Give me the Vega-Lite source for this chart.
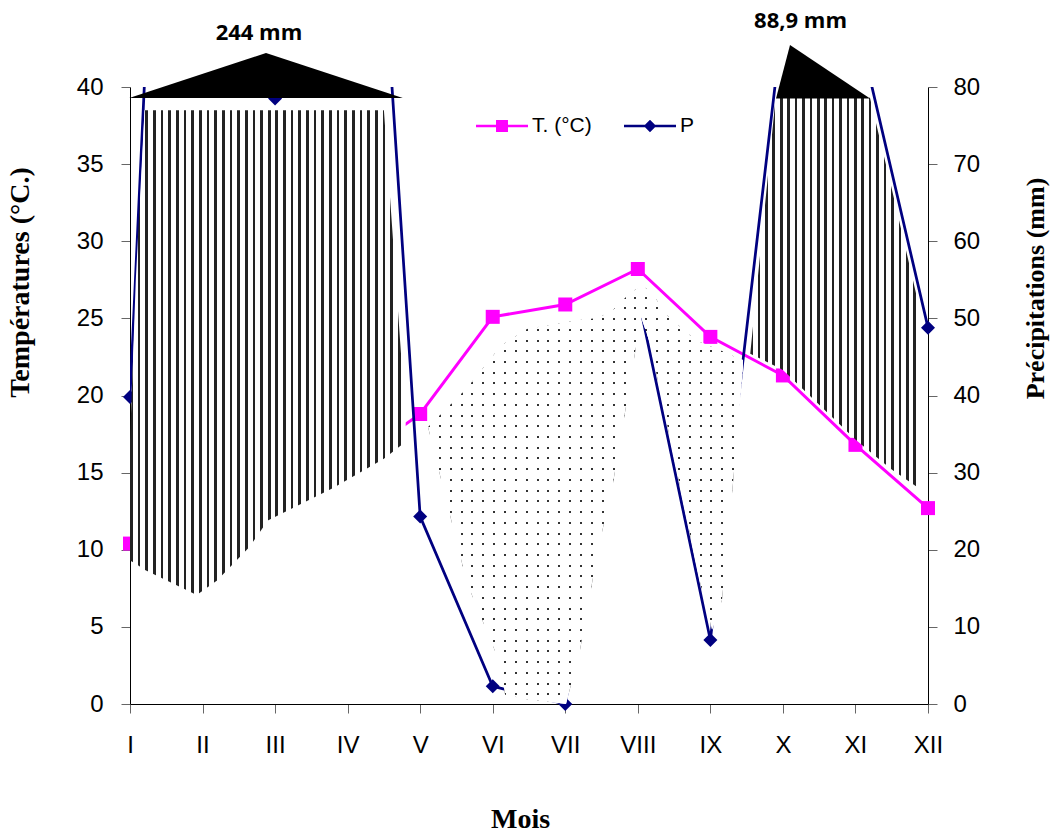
{
"$schema":"https://vega.github.io/schema/vega-lite/v6.json",
"width":798,"height":617,
"autosize":{"type":"none"},
"padding":{"left":130,"top":87,"right":124,"bottom":130},
"background":"white",
"config":{"view":{"stroke":null}},
"datasets":{
"months":[
{"m":1,"T":10.4,"P":39.8},{"m":2,"T":8.5,"P":244},{"m":3,"T":13,"P":78.5},{"m":4,"T":15.5,"P":167.7},
{"m":5,"T":18.8,"P":24.3},{"m":6,"T":25.1,"P":2.3},{"m":7,"T":25.9,"P":0},{"m":8,"T":28.2,"P":53},
{"m":9,"T":23.8,"P":8.3},{"m":10,"T":21.3,"P":88.9},{"m":11,"T":16.8,"P":89.2},{"m":12,"T":12.7,"P":48.8}],
"hatchL":[
{"m":1.0,"top":17.0,"bot":9.3},{"m":1.08,"top":27.5,"bot":9.1},{"m":1.2,"top":38.5,"bot":8.7},
{"m":1.92,"top":38.5,"bot":7.07},{"m":2.2,"top":38.5,"bot":8.0},{"m":2.65,"top":38.5,"bot":10.2},
{"m":2.9,"top":38.5,"bot":11.9},{"m":3.8,"top":38.5,"bot":14.0},{"m":4.5,"top":38.5,"bot":15.9},
{"m":4.8,"top":18.4,"bot":17.0}],
"hatchR":[
{"m":9.55,"top":22.7,"bot":22.7},{"m":9.9,"top":39.3,"bot":21.9},{"m":10,"top":39.3,"bot":21.65},
{"m":11,"top":39.3,"bot":17.15},{"m":11.2,"top":39.3,"bot":16.35},{"m":11.5,"top":33.4,"bot":15.2},
{"m":11.9,"top":25.3,"bot":13.9}],
"dots":[
{"m":5.108,"top":17.96,"bot":17.96},{"m":5.645,"top":20.49,"bot":7.84},{"m":6.1,"top":23.14,"bot":2.66},
{"m":6.17,"top":23.4,"bot":0.6},
{"m":6.472,"top":24.31,"bot":0.3},{"m":7.01,"top":24.76,"bot":0},{"m":7.203,"top":24.89,"bot":3.5},
{"m":7.451,"top":25.02,"bot":9.98},{"m":7.658,"top":25.54,"bot":14.33},{"m":7.892,"top":26.65,"bot":20.81},
{"m":8.044,"top":27.1,"bot":25.09},{"m":8.168,"top":26.84,"bot":23.4},{"m":8.402,"top":25.21,"bot":18.15},
{"m":8.719,"top":23.91,"bot":11.02},{"m":8.857,"top":23.47,"bot":7.91},{"m":9.023,"top":23.14,"bot":4.8},
{"m":9.16,"top":22.89,"bot":6.74},{"m":9.312,"top":22.56,"bot":14.33},{"m":9.45,"top":22.3,"bot":21.85}],
"tri":[
{"part":"a","m":0.99,"top":39.29,"bot":39.29},{"part":"a","m":2.875,"top":42.2,"bot":39.29},{"part":"a","m":4.76,"top":39.29,"bot":39.29},
{"part":"b","m":9.905,"top":39.26,"bot":39.26},{"part":"b","m":10.098,"top":42.72,"bot":39.26},{"part":"b","m":11.201,"top":39.26,"bot":39.26}],
"labels":[{"label":"244 mm","m":2.778,"t":43.47},{"label":"88,9 mm","m":10.243,"t":44.25}]
},
"encoding":{"x":{"field":"m","type":"quantitative","scale":{"domain":[1,12],"nice":false,"zero":false},
"axis":{"values":[1,2,3,4,5,6,7,8,9,10,11,12],"labelExpr":"['I','II','III','IV','V','VI','VII','VIII','IX','X','XI','XII'][datum.value-1]",
"title":"Mois","titleFont":"Liberation Serif","titleFontWeight":"bold","titleFontSize":28,"titleColor":"black","titleX":390,"titleY":123,"titleAlign":"center","titleBaseline":"alphabetic",
"labelFont":"Liberation Sans","labelFontSize":24,"labelColor":"black","labelPadding":20,"labelFlush":false,"labelOverlap":false,"labelBound":false,
"tickSize":9,"tickColor":"#666","domainColor":"black","grid":false}}},
"layer":[
{"data":{"name":"months"},
 "encoding":{"y":{"field":"T","type":"quantitative","scale":{"domain":[0,40],"nice":false,"zero":false},
  "axis":{"orient":"left","values":[0,5,10,15,20,25,30,35,40],"title":"Températures (°C.)","titleFont":"Liberation Serif","titleFontWeight":"bold","titleFontSize":28,"titleColor":"black",
  "titleAngle":-90,"titleX":-110,"titleY":195,"titleAlign":"center","titleBaseline":"middle",
  "labelFont":"Liberation Sans","labelFontSize":24,"labelColor":"black","labelPadding":18,"tickSize":9,"tickColor":"#666","domainColor":"black","grid":false}}},
 "layer":[
  {"mark":{"type":"line","color":"#ff00ff","strokeWidth":3}},
  {"mark":{"type":"point","shape":"square","filled":true,"size":196,"opacity":1,"color":"#ff00ff"}},
  {"mark":{"type":"point","filled":true,"opacity":0},
   "encoding":{
    "color":{"datum":"T. (°C)","scale":{"domain":["T. (°C)","P"],"range":["#ff00ff","#000080"]},
     "legend":{"orient":"none","legendX":346,"legendY":13,"direction":"horizontal","title":null,"symbolSize":2704,"symbolOpacity":1,"symbolStrokeWidth":0,
     "labelFont":"Liberation Sans","labelFontSize":21,"labelColor":"black","labelOffset":4,"columnPadding":32,"padding":0}},
    "shape":{"datum":"T. (°C)","scale":{"domain":["T. (°C)","P"],"range":[
      "M-1,-0.05L1,-0.05L1,0.05L-1,0.05ZM-0.23,-0.23L0.23,-0.23L0.23,0.23L-0.23,0.23Z",
      "M-1,-0.05L1,-0.05L1,0.05L-1,0.05ZM0,-0.24L0.24,0L0,0.24L-0.24,0Z"]},
     "legend":{"orient":"none","legendX":346,"legendY":13,"direction":"horizontal","title":null,"symbolSize":2704,"symbolOpacity":1,"symbolStrokeWidth":0,
     "labelFont":"Liberation Sans","labelFontSize":21,"labelColor":"black","labelOffset":4,"columnPadding":32,"padding":0}}}}
 ]},
{"data":{"name":"months"},
 "encoding":{"y":{"field":"P","type":"quantitative","scale":{"domain":[0,80],"nice":false,"zero":false},
  "axis":{"orient":"right","values":[0,10,20,30,40,50,60,70,80],"title":"Précipitations (mm)","titleFont":"Liberation Serif","titleFontWeight":"bold","titleFontSize":26,"titleColor":"black",
  "titleAngle":-90,"titleX":107,"titleY":201,"titleAlign":"center","titleBaseline":"middle",
  "labelFont":"Liberation Sans","labelFontSize":24,"labelColor":"black","labelPadding":16,"tickSize":9,"tickColor":"#666","domainColor":"black","grid":false}}},
 "layer":[
  {"mark":{"type":"line","color":"#000080","strokeWidth":2.75,"clip":true}},
  {"transform":[{"filter":"datum.P <= 80"}],"mark":{"type":"point","shape":"diamond","filled":true,"size":196,"opacity":1,"color":"#000080"}}
 ]},
{"layer":[
 {"data":{"name":"hatchL"},
  "mark":{"type":"area","opacity":1,"fill":{"gradient":"linear","x1":0,"y1":0,"x2":1,"y2":0,"stops":[
{"offset":0,"color":"#222"},{"offset":0.00972,"color":"#222"},{"offset":0.00972,"color":"#fff"},{"offset":0.02778,"color":"#fff"},
{"offset":0.02778,"color":"#222"},{"offset":0.0375,"color":"#222"},{"offset":0.0375,"color":"#fff"},{"offset":0.05556,"color":"#fff"},
{"offset":0.05556,"color":"#222"},{"offset":0.06528,"color":"#222"},{"offset":0.06528,"color":"#fff"},{"offset":0.08333,"color":"#fff"},
{"offset":0.08333,"color":"#222"},{"offset":0.09306,"color":"#222"},{"offset":0.09306,"color":"#fff"},{"offset":0.11111,"color":"#fff"},
{"offset":0.11111,"color":"#222"},{"offset":0.12083,"color":"#222"},{"offset":0.12083,"color":"#fff"},{"offset":0.13889,"color":"#fff"},
{"offset":0.13889,"color":"#222"},{"offset":0.14861,"color":"#222"},{"offset":0.14861,"color":"#fff"},{"offset":0.16667,"color":"#fff"},
{"offset":0.16667,"color":"#222"},{"offset":0.17639,"color":"#222"},{"offset":0.17639,"color":"#fff"},{"offset":0.19444,"color":"#fff"},
{"offset":0.19444,"color":"#222"},{"offset":0.20417,"color":"#222"},{"offset":0.20417,"color":"#fff"},{"offset":0.22222,"color":"#fff"},
{"offset":0.22222,"color":"#222"},{"offset":0.23194,"color":"#222"},{"offset":0.23194,"color":"#fff"},{"offset":0.25,"color":"#fff"},
{"offset":0.25,"color":"#222"},{"offset":0.25972,"color":"#222"},{"offset":0.25972,"color":"#fff"},{"offset":0.27778,"color":"#fff"},
{"offset":0.27778,"color":"#222"},{"offset":0.2875,"color":"#222"},{"offset":0.2875,"color":"#fff"},{"offset":0.30556,"color":"#fff"},
{"offset":0.30556,"color":"#222"},{"offset":0.31528,"color":"#222"},{"offset":0.31528,"color":"#fff"},{"offset":0.33333,"color":"#fff"},
{"offset":0.33333,"color":"#222"},{"offset":0.34306,"color":"#222"},{"offset":0.34306,"color":"#fff"},{"offset":0.36111,"color":"#fff"},
{"offset":0.36111,"color":"#222"},{"offset":0.37083,"color":"#222"},{"offset":0.37083,"color":"#fff"},{"offset":0.38889,"color":"#fff"},
{"offset":0.38889,"color":"#222"},{"offset":0.39861,"color":"#222"},{"offset":0.39861,"color":"#fff"},{"offset":0.41667,"color":"#fff"},
{"offset":0.41667,"color":"#222"},{"offset":0.42639,"color":"#222"},{"offset":0.42639,"color":"#fff"},{"offset":0.44444,"color":"#fff"},
{"offset":0.44444,"color":"#222"},{"offset":0.45417,"color":"#222"},{"offset":0.45417,"color":"#fff"},{"offset":0.47222,"color":"#fff"},
{"offset":0.47222,"color":"#222"},{"offset":0.48194,"color":"#222"},{"offset":0.48194,"color":"#fff"},{"offset":0.5,"color":"#fff"},
{"offset":0.5,"color":"#222"},{"offset":0.50972,"color":"#222"},{"offset":0.50972,"color":"#fff"},{"offset":0.52778,"color":"#fff"},
{"offset":0.52778,"color":"#222"},{"offset":0.5375,"color":"#222"},{"offset":0.5375,"color":"#fff"},{"offset":0.55556,"color":"#fff"},
{"offset":0.55556,"color":"#222"},{"offset":0.56528,"color":"#222"},{"offset":0.56528,"color":"#fff"},{"offset":0.58333,"color":"#fff"},
{"offset":0.58333,"color":"#222"},{"offset":0.59306,"color":"#222"},{"offset":0.59306,"color":"#fff"},{"offset":0.61111,"color":"#fff"},
{"offset":0.61111,"color":"#222"},{"offset":0.62083,"color":"#222"},{"offset":0.62083,"color":"#fff"},{"offset":0.63889,"color":"#fff"},
{"offset":0.63889,"color":"#222"},{"offset":0.64861,"color":"#222"},{"offset":0.64861,"color":"#fff"},{"offset":0.66667,"color":"#fff"},
{"offset":0.66667,"color":"#222"},{"offset":0.67639,"color":"#222"},{"offset":0.67639,"color":"#fff"},{"offset":0.69444,"color":"#fff"},
{"offset":0.69444,"color":"#222"},{"offset":0.70417,"color":"#222"},{"offset":0.70417,"color":"#fff"},{"offset":0.72222,"color":"#fff"},
{"offset":0.72222,"color":"#222"},{"offset":0.73194,"color":"#222"},{"offset":0.73194,"color":"#fff"},{"offset":0.75,"color":"#fff"},
{"offset":0.75,"color":"#222"},{"offset":0.75972,"color":"#222"},{"offset":0.75972,"color":"#fff"},{"offset":0.77778,"color":"#fff"},
{"offset":0.77778,"color":"#222"},{"offset":0.7875,"color":"#222"},{"offset":0.7875,"color":"#fff"},{"offset":0.80556,"color":"#fff"},
{"offset":0.80556,"color":"#222"},{"offset":0.81528,"color":"#222"},{"offset":0.81528,"color":"#fff"},{"offset":0.83333,"color":"#fff"},
{"offset":0.83333,"color":"#222"},{"offset":0.84306,"color":"#222"},{"offset":0.84306,"color":"#fff"},{"offset":0.86111,"color":"#fff"},
{"offset":0.86111,"color":"#222"},{"offset":0.87083,"color":"#222"},{"offset":0.87083,"color":"#fff"},{"offset":0.88889,"color":"#fff"},
{"offset":0.88889,"color":"#222"},{"offset":0.89861,"color":"#222"},{"offset":0.89861,"color":"#fff"},{"offset":0.91667,"color":"#fff"},
{"offset":0.91667,"color":"#222"},{"offset":0.92639,"color":"#222"},{"offset":0.92639,"color":"#fff"},{"offset":0.94444,"color":"#fff"},
{"offset":0.94444,"color":"#222"},{"offset":0.95417,"color":"#222"},{"offset":0.95417,"color":"#fff"},{"offset":0.97222,"color":"#fff"},
{"offset":0.97222,"color":"#222"},{"offset":0.98194,"color":"#222"},{"offset":0.98194,"color":"#fff"},{"offset":1,"color":"#fff"}]}},
  "encoding":{"y":{"field":"top","type":"quantitative","scale":{"domain":[0,40],"nice":false,"zero":false},"axis":null},"y2":{"field":"bot"}}},
 {"data":{"name":"hatchR"},
  "mark":{"type":"area","opacity":1,"fill":{"gradient":"linear","x1":0,"y1":0,"x2":1,"y2":0,"stops":[
{"offset":0,"color":"#222"},{"offset":0.01522,"color":"#222"},{"offset":0.01522,"color":"#fff"},{"offset":0.04348,"color":"#fff"},
{"offset":0.04348,"color":"#222"},{"offset":0.0587,"color":"#222"},{"offset":0.0587,"color":"#fff"},{"offset":0.08696,"color":"#fff"},
{"offset":0.08696,"color":"#222"},{"offset":0.10217,"color":"#222"},{"offset":0.10217,"color":"#fff"},{"offset":0.13043,"color":"#fff"},
{"offset":0.13043,"color":"#222"},{"offset":0.14565,"color":"#222"},{"offset":0.14565,"color":"#fff"},{"offset":0.17391,"color":"#fff"},
{"offset":0.17391,"color":"#222"},{"offset":0.18913,"color":"#222"},{"offset":0.18913,"color":"#fff"},{"offset":0.21739,"color":"#fff"},
{"offset":0.21739,"color":"#222"},{"offset":0.23261,"color":"#222"},{"offset":0.23261,"color":"#fff"},{"offset":0.26087,"color":"#fff"},
{"offset":0.26087,"color":"#222"},{"offset":0.27609,"color":"#222"},{"offset":0.27609,"color":"#fff"},{"offset":0.30435,"color":"#fff"},
{"offset":0.30435,"color":"#222"},{"offset":0.31957,"color":"#222"},{"offset":0.31957,"color":"#fff"},{"offset":0.34783,"color":"#fff"},
{"offset":0.34783,"color":"#222"},{"offset":0.36304,"color":"#222"},{"offset":0.36304,"color":"#fff"},{"offset":0.3913,"color":"#fff"},
{"offset":0.3913,"color":"#222"},{"offset":0.40652,"color":"#222"},{"offset":0.40652,"color":"#fff"},{"offset":0.43478,"color":"#fff"},
{"offset":0.43478,"color":"#222"},{"offset":0.45,"color":"#222"},{"offset":0.45,"color":"#fff"},{"offset":0.47826,"color":"#fff"},
{"offset":0.47826,"color":"#222"},{"offset":0.49348,"color":"#222"},{"offset":0.49348,"color":"#fff"},{"offset":0.52174,"color":"#fff"},
{"offset":0.52174,"color":"#222"},{"offset":0.53696,"color":"#222"},{"offset":0.53696,"color":"#fff"},{"offset":0.56522,"color":"#fff"},
{"offset":0.56522,"color":"#222"},{"offset":0.58043,"color":"#222"},{"offset":0.58043,"color":"#fff"},{"offset":0.6087,"color":"#fff"},
{"offset":0.6087,"color":"#222"},{"offset":0.62391,"color":"#222"},{"offset":0.62391,"color":"#fff"},{"offset":0.65217,"color":"#fff"},
{"offset":0.65217,"color":"#222"},{"offset":0.66739,"color":"#222"},{"offset":0.66739,"color":"#fff"},{"offset":0.69565,"color":"#fff"},
{"offset":0.69565,"color":"#222"},{"offset":0.71087,"color":"#222"},{"offset":0.71087,"color":"#fff"},{"offset":0.73913,"color":"#fff"},
{"offset":0.73913,"color":"#222"},{"offset":0.75435,"color":"#222"},{"offset":0.75435,"color":"#fff"},{"offset":0.78261,"color":"#fff"},
{"offset":0.78261,"color":"#222"},{"offset":0.79783,"color":"#222"},{"offset":0.79783,"color":"#fff"},{"offset":0.82609,"color":"#fff"},
{"offset":0.82609,"color":"#222"},{"offset":0.8413,"color":"#222"},{"offset":0.8413,"color":"#fff"},{"offset":0.86957,"color":"#fff"},
{"offset":0.86957,"color":"#222"},{"offset":0.88478,"color":"#222"},{"offset":0.88478,"color":"#fff"},{"offset":0.91304,"color":"#fff"},
{"offset":0.91304,"color":"#222"},{"offset":0.92826,"color":"#222"},{"offset":0.92826,"color":"#fff"},{"offset":0.95652,"color":"#fff"},
{"offset":0.95652,"color":"#222"},{"offset":0.97174,"color":"#222"},{"offset":0.97174,"color":"#fff"},{"offset":1,"color":"#fff"}]}},
  "encoding":{"y":{"field":"top","type":"quantitative","scale":{"domain":[0,40],"nice":false,"zero":false},"axis":null},"y2":{"field":"bot"}}},
 {"data":{"name":"dots"},
  "mark":{"type":"area","opacity":1,"fill":{"gradient":"linear","x1":0,"y1":0,"x2":1,"y2":0,"stops":[
{"offset":0,"color":"#333"},{"offset":0.00634,"color":"#333"},{"offset":0.00634,"color":"#fff"},{"offset":0.03448,"color":"#fff"},
{"offset":0.03448,"color":"#333"},{"offset":0.04082,"color":"#333"},{"offset":0.04082,"color":"#fff"},{"offset":0.06897,"color":"#fff"},
{"offset":0.06897,"color":"#333"},{"offset":0.07531,"color":"#333"},{"offset":0.07531,"color":"#fff"},{"offset":0.10345,"color":"#fff"},
{"offset":0.10345,"color":"#333"},{"offset":0.10979,"color":"#333"},{"offset":0.10979,"color":"#fff"},{"offset":0.13793,"color":"#fff"},
{"offset":0.13793,"color":"#333"},{"offset":0.14427,"color":"#333"},{"offset":0.14427,"color":"#fff"},{"offset":0.17241,"color":"#fff"},
{"offset":0.17241,"color":"#333"},{"offset":0.17875,"color":"#333"},{"offset":0.17875,"color":"#fff"},{"offset":0.2069,"color":"#fff"},
{"offset":0.2069,"color":"#333"},{"offset":0.21324,"color":"#333"},{"offset":0.21324,"color":"#fff"},{"offset":0.24138,"color":"#fff"},
{"offset":0.24138,"color":"#333"},{"offset":0.24772,"color":"#333"},{"offset":0.24772,"color":"#fff"},{"offset":0.27586,"color":"#fff"},
{"offset":0.27586,"color":"#333"},{"offset":0.2822,"color":"#333"},{"offset":0.2822,"color":"#fff"},{"offset":0.31034,"color":"#fff"},
{"offset":0.31034,"color":"#333"},{"offset":0.31668,"color":"#333"},{"offset":0.31668,"color":"#fff"},{"offset":0.34483,"color":"#fff"},
{"offset":0.34483,"color":"#333"},{"offset":0.35117,"color":"#333"},{"offset":0.35117,"color":"#fff"},{"offset":0.37931,"color":"#fff"},
{"offset":0.37931,"color":"#333"},{"offset":0.38565,"color":"#333"},{"offset":0.38565,"color":"#fff"},{"offset":0.41379,"color":"#fff"},
{"offset":0.41379,"color":"#333"},{"offset":0.42013,"color":"#333"},{"offset":0.42013,"color":"#fff"},{"offset":0.44828,"color":"#fff"},
{"offset":0.44828,"color":"#333"},{"offset":0.45462,"color":"#333"},{"offset":0.45462,"color":"#fff"},{"offset":0.48276,"color":"#fff"},
{"offset":0.48276,"color":"#333"},{"offset":0.4891,"color":"#333"},{"offset":0.4891,"color":"#fff"},{"offset":0.51724,"color":"#fff"},
{"offset":0.51724,"color":"#333"},{"offset":0.52358,"color":"#333"},{"offset":0.52358,"color":"#fff"},{"offset":0.55172,"color":"#fff"},
{"offset":0.55172,"color":"#333"},{"offset":0.55806,"color":"#333"},{"offset":0.55806,"color":"#fff"},{"offset":0.58621,"color":"#fff"},
{"offset":0.58621,"color":"#333"},{"offset":0.59255,"color":"#333"},{"offset":0.59255,"color":"#fff"},{"offset":0.62069,"color":"#fff"},
{"offset":0.62069,"color":"#333"},{"offset":0.62703,"color":"#333"},{"offset":0.62703,"color":"#fff"},{"offset":0.65517,"color":"#fff"},
{"offset":0.65517,"color":"#333"},{"offset":0.66151,"color":"#333"},{"offset":0.66151,"color":"#fff"},{"offset":0.68966,"color":"#fff"},
{"offset":0.68966,"color":"#333"},{"offset":0.696,"color":"#333"},{"offset":0.696,"color":"#fff"},{"offset":0.72414,"color":"#fff"},
{"offset":0.72414,"color":"#333"},{"offset":0.73048,"color":"#333"},{"offset":0.73048,"color":"#fff"},{"offset":0.75862,"color":"#fff"},
{"offset":0.75862,"color":"#333"},{"offset":0.76496,"color":"#333"},{"offset":0.76496,"color":"#fff"},{"offset":0.7931,"color":"#fff"},
{"offset":0.7931,"color":"#333"},{"offset":0.79944,"color":"#333"},{"offset":0.79944,"color":"#fff"},{"offset":0.82759,"color":"#fff"},
{"offset":0.82759,"color":"#333"},{"offset":0.83393,"color":"#333"},{"offset":0.83393,"color":"#fff"},{"offset":0.86207,"color":"#fff"},
{"offset":0.86207,"color":"#333"},{"offset":0.86841,"color":"#333"},{"offset":0.86841,"color":"#fff"},{"offset":0.89655,"color":"#fff"},
{"offset":0.89655,"color":"#333"},{"offset":0.90289,"color":"#333"},{"offset":0.90289,"color":"#fff"},{"offset":0.93103,"color":"#fff"},
{"offset":0.93103,"color":"#333"},{"offset":0.93737,"color":"#333"},{"offset":0.93737,"color":"#fff"},{"offset":0.96552,"color":"#fff"},
{"offset":0.96552,"color":"#333"},{"offset":0.97186,"color":"#333"},{"offset":0.97186,"color":"#fff"},{"offset":1,"color":"#fff"}]}},
  "encoding":{"y":{"field":"top","type":"quantitative","scale":{"domain":[0,40],"nice":false,"zero":false},"axis":null},"y2":{"field":"bot"}}},
 {"data":{"name":"dots"},
  "mark":{"type":"area","opacity":1,"fill":{"gradient":"linear","x1":0,"y1":0,"x2":0,"y2":1,"stops":[
{"offset":0,"color":"rgba(255,255,255,0)"},{"offset":0.0048,"color":"rgba(255,255,255,0)"},{"offset":0.0048,"color":"#fff"},{"offset":0.02564,"color":"#fff"},
{"offset":0.02564,"color":"rgba(255,255,255,0)"},{"offset":0.03044,"color":"rgba(255,255,255,0)"},{"offset":0.03044,"color":"#fff"},{"offset":0.05128,"color":"#fff"},
{"offset":0.05128,"color":"rgba(255,255,255,0)"},{"offset":0.05608,"color":"rgba(255,255,255,0)"},{"offset":0.05608,"color":"#fff"},{"offset":0.07692,"color":"#fff"},
{"offset":0.07692,"color":"rgba(255,255,255,0)"},{"offset":0.08172,"color":"rgba(255,255,255,0)"},{"offset":0.08172,"color":"#fff"},{"offset":0.10256,"color":"#fff"},
{"offset":0.10256,"color":"rgba(255,255,255,0)"},{"offset":0.10736,"color":"rgba(255,255,255,0)"},{"offset":0.10736,"color":"#fff"},{"offset":0.12821,"color":"#fff"},
{"offset":0.12821,"color":"rgba(255,255,255,0)"},{"offset":0.13301,"color":"rgba(255,255,255,0)"},{"offset":0.13301,"color":"#fff"},{"offset":0.15385,"color":"#fff"},
{"offset":0.15385,"color":"rgba(255,255,255,0)"},{"offset":0.15865,"color":"rgba(255,255,255,0)"},{"offset":0.15865,"color":"#fff"},{"offset":0.17949,"color":"#fff"},
{"offset":0.17949,"color":"rgba(255,255,255,0)"},{"offset":0.18429,"color":"rgba(255,255,255,0)"},{"offset":0.18429,"color":"#fff"},{"offset":0.20513,"color":"#fff"},
{"offset":0.20513,"color":"rgba(255,255,255,0)"},{"offset":0.20993,"color":"rgba(255,255,255,0)"},{"offset":0.20993,"color":"#fff"},{"offset":0.23077,"color":"#fff"},
{"offset":0.23077,"color":"rgba(255,255,255,0)"},{"offset":0.23557,"color":"rgba(255,255,255,0)"},{"offset":0.23557,"color":"#fff"},{"offset":0.25641,"color":"#fff"},
{"offset":0.25641,"color":"rgba(255,255,255,0)"},{"offset":0.26121,"color":"rgba(255,255,255,0)"},{"offset":0.26121,"color":"#fff"},{"offset":0.28205,"color":"#fff"},
{"offset":0.28205,"color":"rgba(255,255,255,0)"},{"offset":0.28685,"color":"rgba(255,255,255,0)"},{"offset":0.28685,"color":"#fff"},{"offset":0.30769,"color":"#fff"},
{"offset":0.30769,"color":"rgba(255,255,255,0)"},{"offset":0.31249,"color":"rgba(255,255,255,0)"},{"offset":0.31249,"color":"#fff"},{"offset":0.33333,"color":"#fff"},
{"offset":0.33333,"color":"rgba(255,255,255,0)"},{"offset":0.33813,"color":"rgba(255,255,255,0)"},{"offset":0.33813,"color":"#fff"},{"offset":0.35897,"color":"#fff"},
{"offset":0.35897,"color":"rgba(255,255,255,0)"},{"offset":0.36377,"color":"rgba(255,255,255,0)"},{"offset":0.36377,"color":"#fff"},{"offset":0.38462,"color":"#fff"},
{"offset":0.38462,"color":"rgba(255,255,255,0)"},{"offset":0.38942,"color":"rgba(255,255,255,0)"},{"offset":0.38942,"color":"#fff"},{"offset":0.41026,"color":"#fff"},
{"offset":0.41026,"color":"rgba(255,255,255,0)"},{"offset":0.41506,"color":"rgba(255,255,255,0)"},{"offset":0.41506,"color":"#fff"},{"offset":0.4359,"color":"#fff"},
{"offset":0.4359,"color":"rgba(255,255,255,0)"},{"offset":0.4407,"color":"rgba(255,255,255,0)"},{"offset":0.4407,"color":"#fff"},{"offset":0.46154,"color":"#fff"},
{"offset":0.46154,"color":"rgba(255,255,255,0)"},{"offset":0.46634,"color":"rgba(255,255,255,0)"},{"offset":0.46634,"color":"#fff"},{"offset":0.48718,"color":"#fff"},
{"offset":0.48718,"color":"rgba(255,255,255,0)"},{"offset":0.49198,"color":"rgba(255,255,255,0)"},{"offset":0.49198,"color":"#fff"},{"offset":0.51282,"color":"#fff"},
{"offset":0.51282,"color":"rgba(255,255,255,0)"},{"offset":0.51762,"color":"rgba(255,255,255,0)"},{"offset":0.51762,"color":"#fff"},{"offset":0.53846,"color":"#fff"},
{"offset":0.53846,"color":"rgba(255,255,255,0)"},{"offset":0.54326,"color":"rgba(255,255,255,0)"},{"offset":0.54326,"color":"#fff"},{"offset":0.5641,"color":"#fff"},
{"offset":0.5641,"color":"rgba(255,255,255,0)"},{"offset":0.5689,"color":"rgba(255,255,255,0)"},{"offset":0.5689,"color":"#fff"},{"offset":0.58974,"color":"#fff"},
{"offset":0.58974,"color":"rgba(255,255,255,0)"},{"offset":0.59454,"color":"rgba(255,255,255,0)"},{"offset":0.59454,"color":"#fff"},{"offset":0.61538,"color":"#fff"},
{"offset":0.61538,"color":"rgba(255,255,255,0)"},{"offset":0.62018,"color":"rgba(255,255,255,0)"},{"offset":0.62018,"color":"#fff"},{"offset":0.64103,"color":"#fff"},
{"offset":0.64103,"color":"rgba(255,255,255,0)"},{"offset":0.64583,"color":"rgba(255,255,255,0)"},{"offset":0.64583,"color":"#fff"},{"offset":0.66667,"color":"#fff"},
{"offset":0.66667,"color":"rgba(255,255,255,0)"},{"offset":0.67147,"color":"rgba(255,255,255,0)"},{"offset":0.67147,"color":"#fff"},{"offset":0.69231,"color":"#fff"},
{"offset":0.69231,"color":"rgba(255,255,255,0)"},{"offset":0.69711,"color":"rgba(255,255,255,0)"},{"offset":0.69711,"color":"#fff"},{"offset":0.71795,"color":"#fff"},
{"offset":0.71795,"color":"rgba(255,255,255,0)"},{"offset":0.72275,"color":"rgba(255,255,255,0)"},{"offset":0.72275,"color":"#fff"},{"offset":0.74359,"color":"#fff"},
{"offset":0.74359,"color":"rgba(255,255,255,0)"},{"offset":0.74839,"color":"rgba(255,255,255,0)"},{"offset":0.74839,"color":"#fff"},{"offset":0.76923,"color":"#fff"},
{"offset":0.76923,"color":"rgba(255,255,255,0)"},{"offset":0.77403,"color":"rgba(255,255,255,0)"},{"offset":0.77403,"color":"#fff"},{"offset":0.79487,"color":"#fff"},
{"offset":0.79487,"color":"rgba(255,255,255,0)"},{"offset":0.79967,"color":"rgba(255,255,255,0)"},{"offset":0.79967,"color":"#fff"},{"offset":0.82051,"color":"#fff"},
{"offset":0.82051,"color":"rgba(255,255,255,0)"},{"offset":0.82531,"color":"rgba(255,255,255,0)"},{"offset":0.82531,"color":"#fff"},{"offset":0.84615,"color":"#fff"},
{"offset":0.84615,"color":"rgba(255,255,255,0)"},{"offset":0.85095,"color":"rgba(255,255,255,0)"},{"offset":0.85095,"color":"#fff"},{"offset":0.87179,"color":"#fff"},
{"offset":0.87179,"color":"rgba(255,255,255,0)"},{"offset":0.87659,"color":"rgba(255,255,255,0)"},{"offset":0.87659,"color":"#fff"},{"offset":0.89744,"color":"#fff"},
{"offset":0.89744,"color":"rgba(255,255,255,0)"},{"offset":0.90224,"color":"rgba(255,255,255,0)"},{"offset":0.90224,"color":"#fff"},{"offset":0.92308,"color":"#fff"},
{"offset":0.92308,"color":"rgba(255,255,255,0)"},{"offset":0.92788,"color":"rgba(255,255,255,0)"},{"offset":0.92788,"color":"#fff"},{"offset":0.94872,"color":"#fff"},
{"offset":0.94872,"color":"rgba(255,255,255,0)"},{"offset":0.95352,"color":"rgba(255,255,255,0)"},{"offset":0.95352,"color":"#fff"},{"offset":0.97436,"color":"#fff"},
{"offset":0.97436,"color":"rgba(255,255,255,0)"},{"offset":0.97916,"color":"rgba(255,255,255,0)"},{"offset":0.97916,"color":"#fff"},{"offset":1,"color":"#fff"}]}},
  "encoding":{"y":{"field":"top","type":"quantitative","scale":{"domain":[0,40],"nice":false,"zero":false},"axis":null},"y2":{"field":"bot"}}},
 {"data":{"name":"tri"},"mark":{"type":"area","fill":"black","opacity":1,"clip":false},
  "encoding":{"y":{"field":"top","type":"quantitative","scale":{"domain":[0,40],"nice":false,"zero":false},"axis":null},"y2":{"field":"bot"},"detail":{"field":"part"}}},
 {"data":{"name":"labels"},"mark":{"type":"text","font":"Open Sans","fontWeight":"bold","fontSize":22,"color":"black","align":"center","baseline":"middle","clip":false},
  "encoding":{"y":{"field":"t","type":"quantitative","scale":{"domain":[0,40],"nice":false,"zero":false},"axis":null},"text":{"field":"label"}}}
]}
],
"resolve":{"scale":{"y":"independent"}}
}
